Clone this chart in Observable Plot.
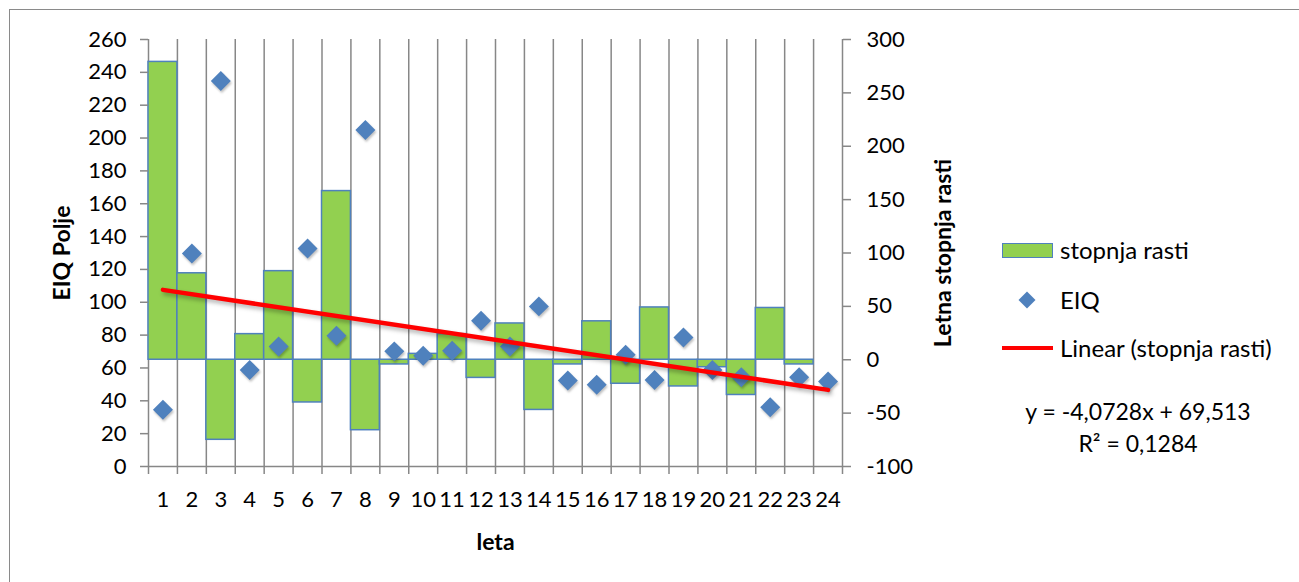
<!DOCTYPE html>
<html>
<head>
<meta charset="utf-8">
<script src="https://cdn.jsdelivr.net/npm/d3@7"></script>
<script src="https://cdn.jsdelivr.net/npm/@observablehq/plot@0.6"></script>
<style>
  body { margin: 0; background: #fff; font-family: Lato, "Open Sans", sans-serif; }
  #wrap { position: relative; width: 1299px; height: 582px; overflow: hidden; background: #fff; }
  #frame { position: absolute; left: 9px; top: 9px; width: 1400px; height: 700px; border: 1.5px solid #8a8a8a; }
  #chart { position: absolute; left: 0; top: 0; }
  .lg { position: absolute; font-size: 24px; color: #000; line-height: 1; white-space: nowrap; transform: translateY(-50%); }
  .eq { position: absolute; font-size: 23px; color: #000; line-height: 1; white-space: nowrap; transform: translate(-50%, -50%); }
</style>
</head>
<body>
<div id="wrap">
  <div id="frame"></div>
  <div id="chart"></div>
  <div id="legend"></div>
</div>
<script>
// ---- data ----
const years = [1,2,3,4,5,6,7,8,9,10,11,12,13,14,15,16,17,18,19,20,21,22,23,24];
const stopnjaRasti = [279, 81, -75, 24, 83, -40, 158, -66, -4.4, 5.5, 24, -17, 34, -47, -4.4, 36, -22.5, 49, -25, -7, -33, 48.5, -4.4];
const eiq = [34.5, 129.7, 234.7, 58.8, 73, 132.7, 79.6, 204.9, 70.1, 67.5, 70.5, 88.8, 73, 97.5, 52.3, 49.8, 68.1, 52.7, 78.6, 58.8, 54.3, 36.1, 54.3, 51.7];
const leftTicks = [0,20,40,60,80,100,120,140,160,180,200,220,240,260];
const rightTicks = [-100,-50,0,50,100,150,200,250,300];
const trendSlope = -4.0728;
const trendIntercept = 69.513;
const trendYears = [1, 24];
const seriesNames = ["stopnja rasti", "EIQ", "Linear (stopnja rasti)"];
const equationText = ["y = -4,0728x + 69,513", "R² = 0,1284"];

// ---- helpers ----
// right axis (-100..300) mapped onto left axis (0..260)
const toLeft = r => (r + 100) * 0.65;
const fromLeft = l => Math.round(l / 0.65 - 100);

const bars = stopnjaRasti.map((v, i) => ({year: years[i], v}));
const pts = eiq.map((v, i) => ({year: years[i], v}));
const trend = trendYears.map(x => ({year: x, v: trendIntercept + trendSlope * x}));
const bounds = [years[0] - 0.5, ...years.map(y => y + 0.5)];

const grey = "#878787";

const plot = Plot.plot({
  width: 1299,
  height: 582,
  marginLeft: 148,
  marginRight: 457,
  marginTop: 39,
  marginBottom: 116,
  style: {fontFamily: "Lato, 'Open Sans', sans-serif", fontSize: "22px", background: "transparent", color: "#000"},
  x: {type: "linear", domain: [0.5, 24.5]},
  y: {domain: [0, 260]},
  marks: [
    Plot.ruleX(bounds, {y1: 0, y2: 260, stroke: grey, strokeWidth: 1.5}),
    Plot.rect(bars, {x1: d => d.year - 0.5, x2: d => d.year + 0.5, y1: toLeft(0), y2: d => toLeft(d.v), fill: "#92D050", stroke: "#4F81BD", strokeWidth: 1.5}),
    Plot.ruleY([0], {stroke: grey, strokeWidth: 1.5}),
    Plot.axisY({anchor: "left", ticks: leftTicks, tickSize: 8, tickPadding: 14, stroke: grey, strokeWidth: 1.5, label: null, tickFormat: d => String(d)}),
    Plot.axisY({anchor: "right", ticks: rightTicks.map(toLeft), tickSize: 8, tickPadding: 16, stroke: grey, strokeWidth: 1.5, label: null, tickFormat: d => String(fromLeft(d))}),
    Plot.axisX({ticks: bounds, tickSize: 8, stroke: grey, strokeWidth: 1.5, label: null, tickFormat: () => ""}),
    Plot.axisX({ticks: years, tickSize: 0, tickPadding: 25, label: null, tickFormat: d => String(d)}),
    Plot.text(["EIQ Polje"], {frameAnchor: "left", textAnchor: "middle", lineAnchor: "middle", dx: -86, rotate: -90, fontWeight: "bold", fontSize: 23}),
    Plot.text(["Letna stopnja rasti"], {frameAnchor: "right", textAnchor: "middle", lineAnchor: "middle", dx: 101, rotate: -90, fontWeight: "bold", fontSize: 23}),
    Plot.text(["leta"], {frameAnchor: "bottom", textAnchor: "middle", lineAnchor: "middle", dy: 76, fontWeight: "bold", fontSize: 23}),
    Plot.dot(pts, {x: "year", y: "v", symbol: "diamond2", r: 9, fill: "#4F81BD", stroke: "none"}),
    Plot.line(trend, {x: "year", y: d => toLeft(d.v), stroke: "#FF0000", strokeWidth: 4.5})
  ]
});
d3.select(plot).selectAll('g[aria-label="line"] path').style("filter", "drop-shadow(2px 3px 2px rgba(0,0,0,0.3))");
d3.select(plot).selectAll('g[aria-label="dot"] path').style("filter", "drop-shadow(1px 2px 1px rgba(0,0,0,0.25))");
document.getElementById("chart").appendChild(plot);

// ---- legend ----
const lg = document.getElementById("legend");
lg.innerHTML = `
  <div style="position:absolute;left:1002px;top:243px;width:49px;height:13px;background:#92D050;border:1.5px solid #4F81BD;"></div>
  <div class="lg" style="left:1060px;top:250px;">${seriesNames[0]}</div>
  <div style="position:absolute;left:1021px;top:294px;width:12px;height:12px;background:#4F81BD;transform:rotate(45deg);"></div>
  <div class="lg" style="left:1060px;top:300px;">${seriesNames[1]}</div>
  <div style="position:absolute;left:1002px;top:346px;width:51px;height:4px;background:#FF0000;"></div>
  <div class="lg" style="left:1060px;top:348px;">${seriesNames[2]}</div>
  <div class="eq" style="left:1138px;top:411px;">${equationText[0]}</div>
  <div class="eq" style="left:1138px;top:443px;">${equationText[1]}</div>
`;
</script>
</body>
</html>
